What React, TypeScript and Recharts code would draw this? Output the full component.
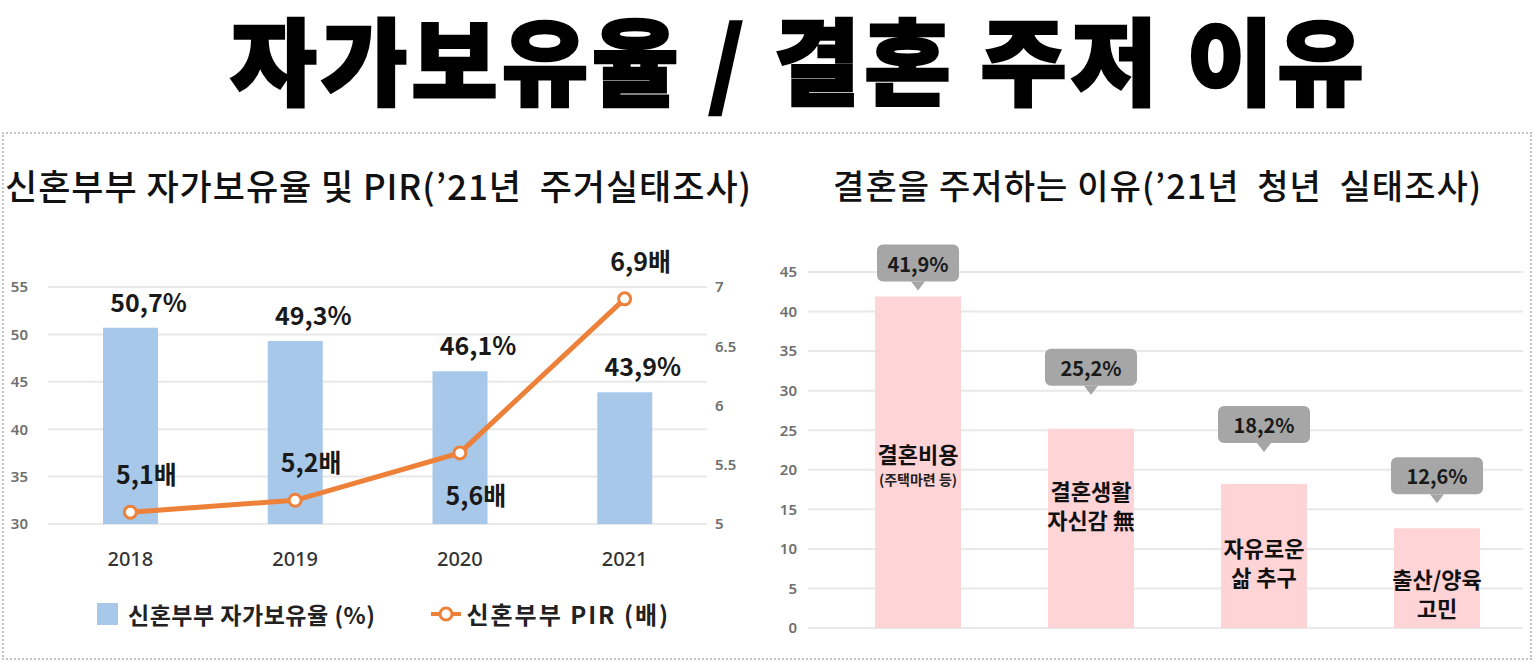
import { ComposedChart, BarChart, Bar, Line, XAxis, YAxis, CartesianGrid } from "recharts"

// left panel: 신혼부부 자가보유율 / PIR
const years = ["2018", "2019", "2020", "2021"]
const ownershipRate = [50.7, 49.3, 46.1, 43.9]
const pirValues = [5.1, 5.2, 5.6, 6.9]
const rateTicks = [30, 35, 40, 45, 50, 55]
const pirTicks = [5, 5.5, 6, 6.5, 7]

// right panel: 결혼을 주저하는 이유
const reasons = ["결혼비용", "결혼생활 자신감 無", "자유로운 삶 추구", "출산/양육 고민"]
const reasonLines = [["결혼비용"], ["결혼생활", "자신감 無"], ["자유로운", "삶 추구"], ["출산/양육", "고민"]]
const reasonNotes = ["(주택마련 등)", "", "", ""]
const reasonShare = [41.9, 25.2, 18.2, 12.6]
const shareTicks = [0, 5, 10, 15, 20, 25, 30, 35, 40, 45]

const leftData = years.map((year, i) => ({ year, rate: ownershipRate[i], pir: pirValues[i] }))
const rightData = reasons.map((name, i) => ({ name, share: reasonShare[i] }))

const FONT = "'Noto Sans CJK KR', 'Noto Sans', sans-serif"
const BLUE = "#a8c8ea"
const ORANGE = "#ee8139"
const PINK = "#ffd4d6"

// hand placed label tweaks (the source had them nudged by hand)
const pirLabelBelow = [false, false, true, false]
const calloutGap = [6, 34, 32, 25]
const nameOffset = [156, 61, 63, 50]

const fmt = (v: number) => v.toFixed(1).replace(".", ",")

const tickStyle = { fill: "#6f6f6f", fontSize: 15, fontFamily: "'Noto Sans', sans-serif", fontWeight: 600 }

function RateLabel(props: any) {
  const { x, y, width, value } = props
  return (
    <text
      x={x + width / 2 + 18}
      y={y - 27}
      textAnchor="middle"
      dominantBaseline="central"
      fontSize={25}
      fontWeight={700}
      fill="#1a1a1a"
      fontFamily={FONT}
    >
      {fmt(value)}%
    </text>
  )
}

function PirLabel(props: any) {
  const { x, y, value, index } = props
  const below = pirLabelBelow[index]
  return (
    <text
      x={x + 16}
      y={below ? y + 41 : y - 39}
      textAnchor="middle"
      dominantBaseline="central"
      fontSize={25}
      fontWeight={700}
      fill="#1a1a1a"
      fontFamily={FONT}
    >
      {fmt(value)}배
    </text>
  )
}

function ReasonLabel(props: any) {
  const { x, y, width, value, index } = props
  const cx = x + width / 2
  const tip = y - calloutGap[index]
  const boxW = index === 0 ? 82 : 92
  const boxH = 37
  const boxBottom = tip - 9
  const nameY = y + nameOffset[index]
  const lines = reasonLines[index]
  const note = reasonNotes[index]
  return (
    <g fontFamily={FONT}>
      <rect x={cx - boxW / 2} y={boxBottom - boxH} width={boxW} height={boxH} rx={6} fill="#a6a6a6" />
      <path d={`M${cx - 7},${boxBottom} L${cx},${tip} L${cx + 7},${boxBottom} Z`} fill="#a6a6a6" />
      <text x={cx} y={boxBottom - boxH / 2} textAnchor="middle" dominantBaseline="central" fontSize={20} fontWeight={700} fill="#1a1a1a">
        {fmt(value)}%
      </text>
      {lines.map((line, i) => (
        <text key={i} x={cx} y={nameY + i * 29} textAnchor="middle" dominantBaseline="central" fontSize={22} fontWeight={700} fill="#111">
          {line}
        </text>
      ))}
      {note && (
        <text x={cx} y={nameY + 26} textAnchor="middle" dominantBaseline="central" fontSize={14} fontWeight={700} fill="#222">
          {note}
        </text>
      )}
    </g>
  )
}

export default function App() {
  return (
    <div style={{ position: "absolute", left: 0, top: 0, width: 1534, height: 662, background: "#fff", fontFamily: FONT, overflow: "hidden" }}>
      <svg width={1534} height={128} style={{ position: "absolute", left: 0, top: 0 }}>
        <text
          x={799}
          y={98}
          textAnchor="middle"
          fontFamily={FONT}
          fontSize={94}
          fontWeight={900}
          letterSpacing={4}
          fill="#000"
          stroke="#000"
          strokeWidth={2.5}
          style={{ whiteSpace: "pre" }}
        >
          자가보유율 / 결혼 주저 이유
        </text>
      </svg>

      <div style={{ position: "absolute", left: 2, top: 132, width: 1526, height: 524, border: "2px dotted #c4c4c4" }} />

      <div style={{ position: "absolute", left: 5, top: 160, fontSize: 35, fontWeight: 500, color: "#111", whiteSpace: "pre", lineHeight: "50px", letterSpacing: 0.95 }}>
        {"신혼부부 자가보유율 및 PIR(’21년  주거실태조사)"}
      </div>
      <div style={{ position: "absolute", left: 833, top: 160, fontSize: 34, fontWeight: 500, color: "#111", whiteSpace: "pre", lineHeight: "50px", letterSpacing: 1.1 }}>
        {"결혼을 주저하는 이유(’21년  청년  실태조사)"}
      </div>

      <div style={{ position: "absolute", left: 0, top: 0 }}>
        <ComposedChart width={760} height={662} data={leftData} margin={{ top: 287, right: 13, bottom: 98, left: 8 }}>
          <CartesianGrid yAxisId="rate" vertical={false} stroke="#e8e8e8" strokeWidth={2} />
          <XAxis
            dataKey="year"
            axisLine={false}
            tickLine={false}
            tickSize={0}
            tickMargin={28}
            height={40}
            tick={{ fill: "#333", fontSize: 20, fontFamily: "'Noto Sans', sans-serif", fontWeight: 500 }}
          />
          <YAxis
            yAxisId="rate"
            domain={[30, 55]}
            ticks={rateTicks}
            width={40}
            axisLine={false}
            tickLine={false}
            tickSize={0}
            tickMargin={20}
            tick={tickStyle}
          />
          <YAxis
            yAxisId="pir"
            orientation="right"
            domain={[5, 7]}
            ticks={pirTicks}
            width={40}
            axisLine={false}
            tickLine={false}
            tickSize={0}
            tickMargin={8}
            tick={tickStyle}
          />
          <Bar yAxisId="rate" dataKey="rate" fill={BLUE} barSize={55} isAnimationActive={false} label={(p: any) => <RateLabel {...p} />} />
          <Line
            yAxisId="pir"
            type="linear"
            dataKey="pir"
            stroke={ORANGE}
            strokeWidth={5}
            dot={{ r: 6, fill: "#fff", stroke: ORANGE, strokeWidth: 3 }}
            isAnimationActive={false}
            label={(p: any) => <PirLabel {...p} />}
          />
        </ComposedChart>
      </div>

      <div style={{ position: "absolute", left: 97, top: 596, display: "flex", alignItems: "center", fontSize: 23, fontWeight: 700, color: "#222" }}>
        <div style={{ width: 21, height: 22, background: BLUE, marginRight: 10 }} />
        <span style={{ whiteSpace: "pre", letterSpacing: 0.5 }}>신혼부부 자가보유율 (%)</span>
        <svg width={30} height={22} style={{ marginLeft: 56, marginRight: 5 }}>
          <line x1={0} y1={11} x2={30} y2={11} stroke={ORANGE} strokeWidth={4} />
          <circle cx={15} cy={11} r={6} fill="#fff" stroke={ORANGE} strokeWidth={3} />
        </svg>
        <span style={{ whiteSpace: "pre", fontSize: 24, letterSpacing: 2 }}>신혼부부 PIR (배)</span>
      </div>

      <div style={{ position: "absolute", left: 760, top: 0 }}>
        <BarChart width={774} height={662} data={rightData} margin={{ top: 272, right: 11, bottom: 34, left: 8 }}>
          <CartesianGrid vertical={false} stroke="#e8e8e8" strokeWidth={2} />
          <XAxis dataKey="name" hide padding={{ left: 23, right: 0 }} />
          <YAxis
            domain={[0, 45]}
            ticks={shareTicks}
            width={40}
            axisLine={false}
            tickLine={false}
            tickSize={0}
            tickMargin={11}
            tick={tickStyle}
          />
          <Bar dataKey="share" fill={PINK} barSize={86} isAnimationActive={false} label={(p: any) => <ReasonLabel {...p} />} />
        </BarChart>
      </div>
    </div>
  )
}
